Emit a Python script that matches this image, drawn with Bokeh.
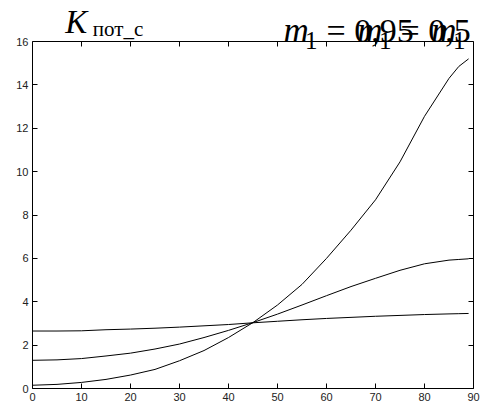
from bokeh.plotting import figure
from bokeh.models import Label, LinearAxis, FixedTicker, Range1d, BoxAnnotation
from bokeh.embed import file_html
from bokeh.resources import INLINE

# angle, degrees
angle = [0, 5, 10, 15, 20, 25, 30, 35, 40, 45, 50, 55, 60, 65, 70, 75, 80, 85, 87, 89]

# K_пот_с for three values of m1
k_m095 = [2.65, 2.65, 2.66, 2.71, 2.74, 2.78, 2.83, 2.89, 2.95, 3.03, 3.10, 3.17,
          3.23, 3.28, 3.33, 3.37, 3.41, 3.44, 3.45, 3.46]
k_m05 = [1.30, 1.32, 1.38, 1.50, 1.63, 1.82, 2.05, 2.35, 2.68, 3.04, 3.43, 3.85,
         4.28, 4.70, 5.08, 5.45, 5.75, 5.92, 5.95, 5.98]
k_m01 = [0.15, 0.19, 0.28, 0.42, 0.62, 0.88, 1.28, 1.75, 2.35, 3.04, 3.85, 4.80,
         6.00, 7.30, 8.70, 10.45, 12.55, 14.30, 14.85, 15.20]

x_ticks = [0, 10, 20, 30, 40, 50, 60, 70, 80, 90]
y_ticks = [0, 2, 4, 6, 8, 10, 12, 14, 16]
m_labels = ["0,95", "0,5", "0,1"]

X_MAX, Y_MAX = 90, 16
FRAME_H = 388          # frame height in px, including the caption strip on top
AXES_H = 347           # height of the boxed axes area in px
y_top = Y_MAX * FRAME_H / AXES_H

p = figure(width=483, height=408, output_backend="svg", toolbar_location=None,
           x_range=Range1d(0, X_MAX), y_range=Range1d(0, y_top),
           min_border_left=32, min_border_right=10, min_border_top=0,
           min_border_bottom=20, x_axis_type=None, y_axis_type=None)
p.background_fill_color = "white"
p.border_fill_color = "white"
p.outline_line_color = None


def style_axis(ax, ticks, show_labels):
    ax.ticker = FixedTicker(ticks=ticks)
    ax.axis_line_color = "black"
    ax.axis_line_width = 1
    ax.major_tick_in = 5
    ax.major_tick_out = 0
    ax.major_tick_line_color = "black"
    ax.minor_tick_line_color = None
    ax.major_label_text_font = "Liberation Sans"
    ax.major_label_text_color = "#222222"
    if show_labels:
        ax.major_label_text_font_size = "11px"
        ax.major_label_standoff = 4
    else:
        ax.major_label_text_font_size = "0px"
        ax.major_label_standoff = 0


bottom = LinearAxis()
style_axis(bottom, x_ticks, True)
p.add_layout(bottom, "below")
left = LinearAxis(bounds=(0, Y_MAX))
style_axis(left, y_ticks, True)
p.add_layout(left, "left")
right = LinearAxis(bounds=(0, Y_MAX))
style_axis(right, y_ticks, False)
p.add_layout(right, "right")
top = LinearAxis(fixed_location=Y_MAX)
style_axis(top, x_ticks, False)
p.add_layout(top, "above")

p.xgrid.ticker = FixedTicker(ticks=x_ticks)
p.ygrid.ticker = FixedTicker(ticks=y_ticks)
for g in (p.xgrid, p.ygrid):
    g.grid_line_color = "#8c8c8c"
    g.grid_line_width = 1
    g.grid_line_dash = "1 1"

# blank strip above the axes box for the captions
p.add_layout(BoxAnnotation(bottom=Y_MAX, fill_color="white", fill_alpha=1,
                           line_color=None, level="underlay"))

for ys in (k_m095, k_m05, k_m01):
    p.line(angle, ys, line_color="black", line_width=1)


def caption(x, y, text, size, italic=False):
    p.add_layout(Label(x=x, y=y, text=text, text_font="Liberation Serif",
                       text_font_style="italic" if italic else "normal",
                       text_font_size=size, text_color="black",
                       text_baseline="alphabetic"))


# axis title K_пот_с above the box
caption(6.7, 16.91, "K", "33px", italic=True)
caption(12.3, 16.58, "пот_с", "21px")

# curve parameter captions m1 = ...
for i, lab in enumerate(m_labels):
    dx = 15.1 * i
    caption(51.2 + dx, 16.51, "m", "35px", italic=True)
    caption(55.6 + dx, 16.06, "1", "25px")
    caption(60.0 + dx, 16.51, "= " + lab, "34px")

open("out.html", "w").write(file_html(p, INLINE))
